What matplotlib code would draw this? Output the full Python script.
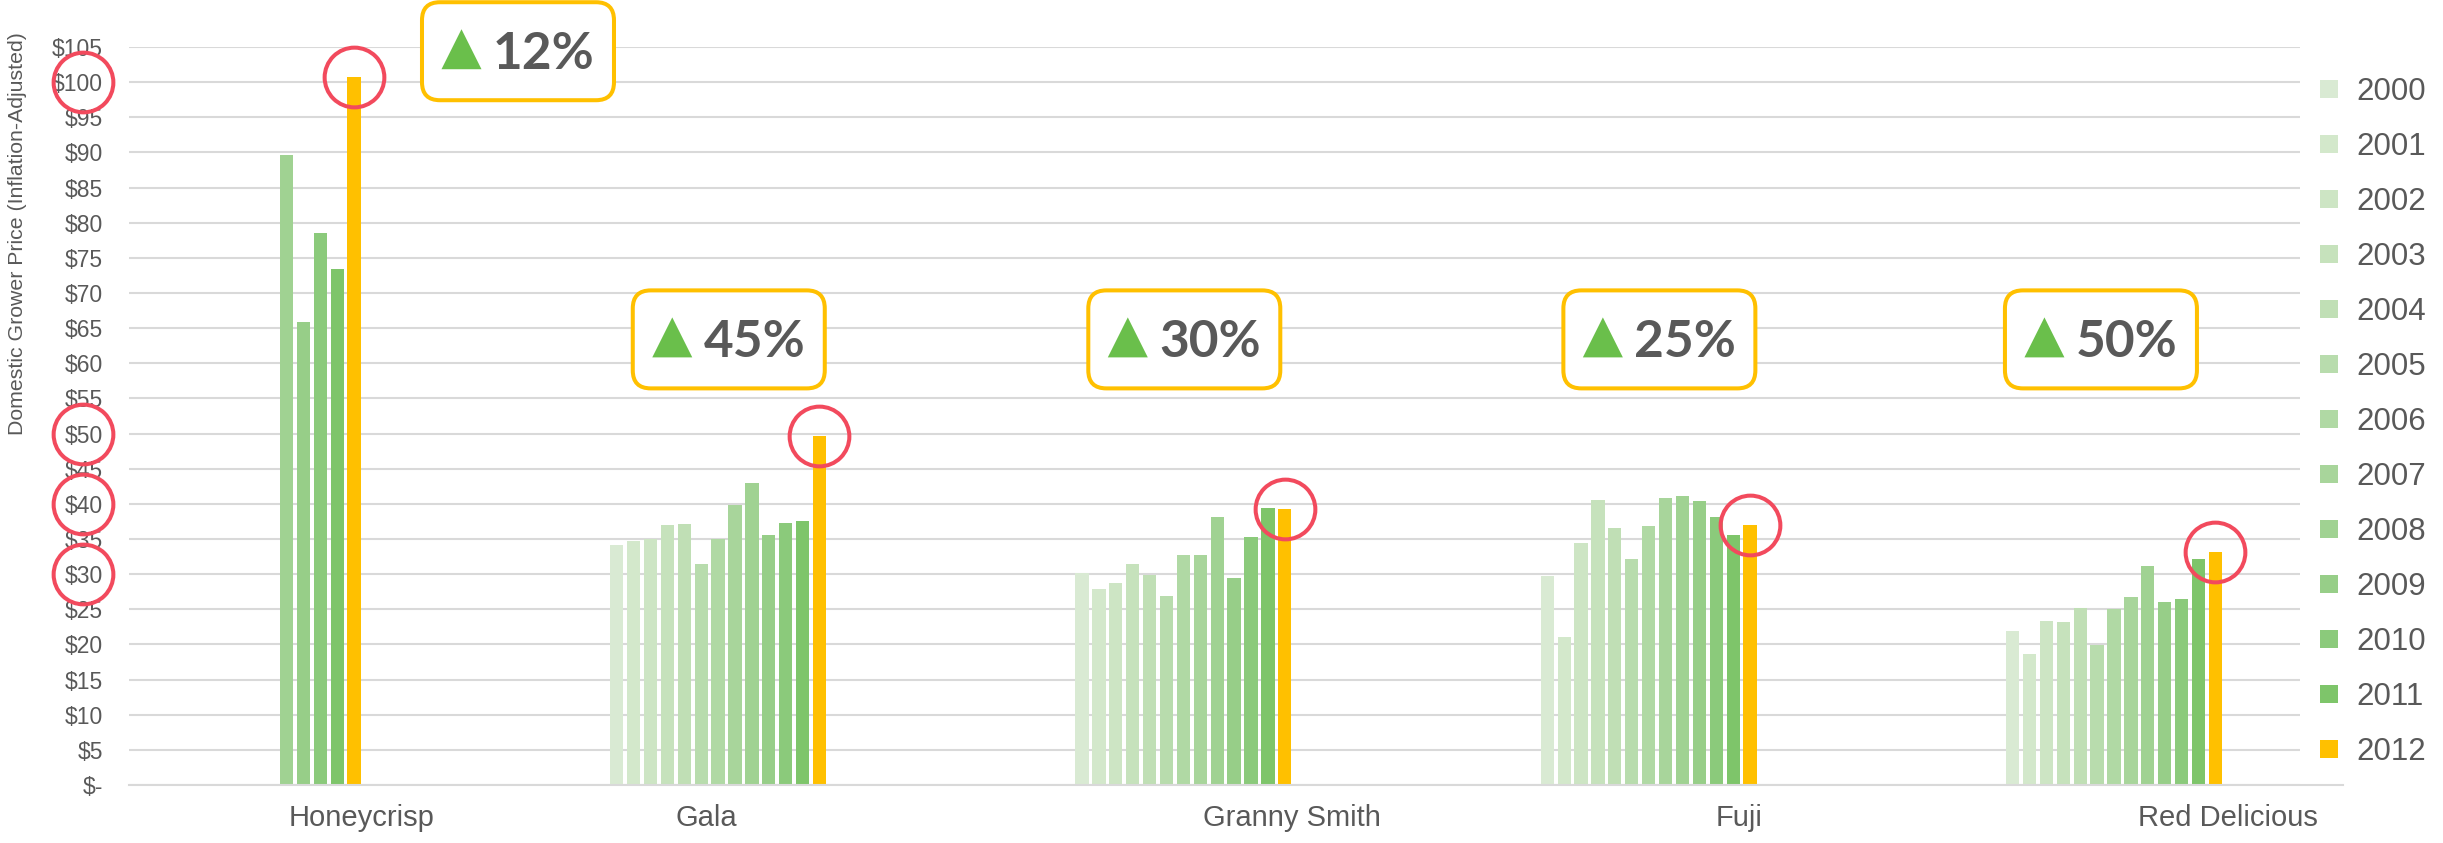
import numpy as np
import matplotlib
matplotlib.use("Agg")
import matplotlib.pyplot as plt
from matplotlib.patches import FancyBboxPatch, Polygon
from matplotlib.transforms import IdentityTransform, blended_transform_factory

plt.rcParams["font.family"] = ["Liberation Sans", "DejaVu Sans"]

nan = np.nan
years = ["2000", "2001", "2002", "2003", "2004", "2005", "2006",
         "2007", "2008", "2009", "2010", "2011", "2012"]
apples = ["Honeycrisp", "Gala", "Granny Smith", "Fuji", "Red Delicious"]

honeycrisp = [nan, nan, nan, nan, nan, nan, nan, nan, 89.6, 65.9, 78.5, 73.4, 100.7]
gala = [34.2, 34.7, 35.0, 37.0, 37.2, 31.5, 35.0, 39.8, 43.0, 35.6, 37.3, 37.6, 49.7]
granny_smith = [30.2, 27.9, 28.8, 31.5, 29.9, 26.9, 32.7, 32.7, 38.2, 29.4, 35.3, 39.4, 39.2]
fuji = [29.8, 21.1, 34.4, 40.5, 36.6, 32.1, 36.9, 40.8, 41.1, 40.4, 38.2, 35.5, 37.0]
red_delicious = [21.9, 18.7, 23.4, 23.2, 25.2, 19.9, 25.0, 26.8, 31.2, 26.1, 26.5, 32.1, 33.2]

changes = ["12%", "45%", "30%", "25%", "50%"]
circled_ticks = [100, 50, 40, 30]

colors = ["#d9ead3", "#d3e8cb", "#cde5c4", "#c6e2bc", "#c0dfb5", "#b8dcad", "#b0d9a4",
          "#a8d59b", "#a0d292", "#97ce88", "#8bca7b", "#7ec56a", "#ffc000"]
grey = "#595959"
grid_c = "#d9d9d9"
red = "#f24a5d"

series = [honeycrisp, gala, granny_smith, fuji, red_delicious]

# layout in pixels
W, H = 2443, 843
ax_l, ax_r, ax_t, ax_b = 129, 2300, 47, 785
cat_px = 465.3

fig = plt.figure(figsize=(W / 100, H / 100), dpi=100)
ax = fig.add_axes([ax_l / W, 1 - ax_b / H, (ax_r - ax_l) / W, (ax_b - ax_t) / H])
ax.set_xlim(-0.5, -0.5 + (ax_r - ax_l) / cat_px)
ax.set_ylim(0, 105)

slot = 16.9 / cat_px
bar_w = 13.3 / cat_px
off = 15.7 / cat_px
cats = np.arange(len(apples))

handles = []
for j, yr in enumerate(years):
    vals = [s[j] for s in series]
    b = ax.bar(cats - 0.5 + off + j * slot, vals, bar_w, align="edge",
               color=colors[j], label=yr, zorder=2, linewidth=0)
    handles.append(b)

# circles on the 2012 bars
last = [s[-1] for s in series]
ax.plot(cats - 0.5 + off + 12 * slot + bar_w / 2, last, "o", ms=43, mfc="none",
        mec=red, mew=2.9, clip_on=False, zorder=6)

# circles around y tick labels
trans = blended_transform_factory(ax.transAxes, ax.transData)
ax.plot([(83 - ax_l) / (ax_r - ax_l)] * len(circled_ticks), circled_ticks, "o", ms=43,
        mfc="none", mec=red, mew=2.9, clip_on=False, zorder=6, transform=trans)

# axes styling
ax.set_yticks(np.arange(0, 106, 5))
ax.yaxis.set_major_formatter(matplotlib.ticker.FuncFormatter(
    lambda v, p: "$-" if v == 0 else f"${int(v)}"))
ax.tick_params(axis="y", length=0, pad=18.7, labelsize=16.5, labelcolor=grey)
ax.set_xticks([0, 0.74, 2, 2.96, 4.01], apples)
ax.tick_params(axis="x", length=0, pad=14, labelsize=21, labelcolor=grey)
ax.grid(axis="y", color=grid_c, lw=1.5, zorder=0)
ax.set_axisbelow(True)
for sp in ["top", "right", "left"]:
    ax.spines[sp].set_visible(False)
ax.spines["bottom"].set_color(grid_c)
ax.spines["bottom"].set_linewidth(1.5)
ax.spines["bottom"].set_bounds(-0.5, -0.5 + (2343 - ax_l) / cat_px)

fig.text(18 / W, 1 - 32 / H, "Domestic Grower Price (Inflation-Adjusted)", rotation=90,
         ha="center", va="top", fontsize=15.3, color=grey)

# change call-out boxes
box_x = [0.336, 0.789, 1.768, 2.789, 3.738]
box_y = [104.4, 63.4, 63.4, 63.4, 63.4]
bw, bh = 192, 98
for bx, by, txt in zip(box_x, box_y, changes):
    cx, cy = ax.transData.transform((bx, by))
    box = FancyBboxPatch((cx - bw / 2, cy - bh / 2), bw, bh,
                         boxstyle="round,pad=0,rounding_size=18",
                         fc="white", ec="#ffc000", lw=2.9,
                         transform=IdentityTransform(), zorder=7)
    fig.add_artist(box)
    tri = Polygon([(cx - 76.5, cy - 18), (cx - 36.5, cy - 18), (cx - 56.5, cy + 22)],
                  closed=True, fc="#6abf4b", ec="none",
                  transform=IdentityTransform(), zorder=8)
    fig.add_artist(tri)
    fig.text(cx + 25.5, cy - 18, txt, transform=IdentityTransform(), ha="center",
             va="baseline", fontsize=37, fontweight="bold", color=grey,
             family=["Lato", "DejaVu Sans"], zorder=9)

fig.legend(handles, years, loc="center left", bbox_to_anchor=(2320 / W, 1 - 422 / H),
           frameon=False, fontsize=22.5, labelcolor=grey, handlelength=0.56,
           handleheight=0.48, handletextpad=0.6, labelspacing=0.8,
           borderpad=0, borderaxespad=0)

fig.savefig("out.png", dpi=100)
